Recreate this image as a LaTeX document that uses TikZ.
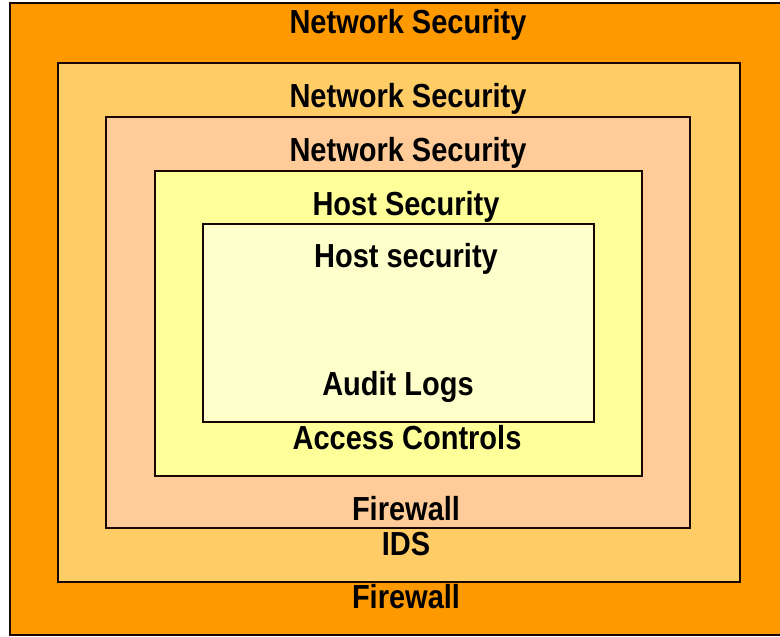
\documentclass[tikz,border=0pt]{standalone}
\usepackage{fontspec}
\setmainfont{Liberation Sans}
\definecolor{c1}{HTML}{FF9900}
\definecolor{c2}{HTML}{FFCC66}
\definecolor{c3}{HTML}{FFCC99}
\definecolor{c4}{HTML}{FFFF99}
\definecolor{c5}{HTML}{FFFFCC}
\definecolor{edge}{HTML}{1A0505}
\newcommand{\stretchtxt}[1]{\scalebox{1}[1.15]{#1}}
\begin{document}
\begin{tikzpicture}[x=1pt,y=1pt,
  box/.style={draw=edge,line width=2.6pt},
  lbl/.style={anchor=base,inner sep=0pt,text=black,font=\fontsize{29}{30}\selectfont\bfseries}]
\useasboundingbox (0,0) rectangle (780,637);
\fill[white] (0,0) rectangle (780,637);
\begin{scope}
\clip (0,0) rectangle (780,637);
\path[box,fill=c1] (10,2) rectangle (790,634);
\end{scope}
\path[box,fill=c2] (58,55) rectangle (740,574);
\path[box,fill=c3] (106,109) rectangle (690,520);
\path[box,fill=c4] (155,161) rectangle (642,466);
\path[box,fill=c5] (203,215) rectangle (594,413);
\node[lbl] (ns1) at (408,603) {\stretchtxt{Network Security}};
\node[lbl] (ns2) at (408,529) {\stretchtxt{Network Security}};
\node[lbl] (ns3) at (408,475) {\stretchtxt{Network Security}};
\node[lbl] (hs1) at (406,421) {\stretchtxt{Host Security}};
\node[lbl] (hs2) at (406,369) {\stretchtxt{Host security}};
\node[lbl] (al) at (398,241) {\stretchtxt{Audit Logs}};
\node[lbl] (ac) at (407,187) {\stretchtxt{Access Controls}};
\node[lbl] (fw1) at (406,116) {\stretchtxt{Firewall}};
\node[lbl] (ids) at (406,81) {\stretchtxt{IDS}};
\node[lbl] (fw2) at (406,28) {\stretchtxt{Firewall}};
\end{tikzpicture}
\end{document}
